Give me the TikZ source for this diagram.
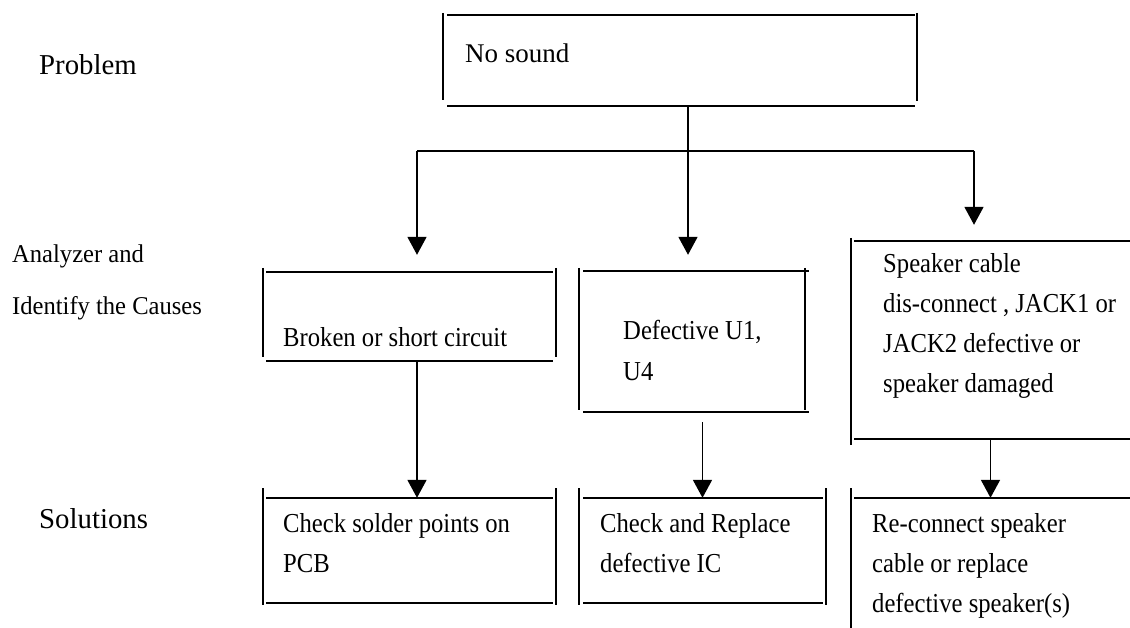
\documentclass[tikz,border=0pt]{standalone}
\usepackage{fontspec}
\setmainfont{Liberation Serif}
\newfontfamily\condserif[FakeStretch=0.9]{Liberation Serif}
\newfontfamily\semicondserif[FakeStretch=0.96]{Liberation Serif}
\usetikzlibrary{arrows.meta,fit,calc}
\begin{document}
\begin{tikzpicture}[x=1pt,y=-1pt,
  hl/.style={line width=2.2pt},
  vl/.style={line width=1.4pt},
  conn/.style={line width=1.8pt},
  arr/.style={conn,-{Triangle[width=19pt,length=18pt]}},
  lbl/.style={anchor=base west,inner sep=0pt,font=\fontsize{28.8}{34}\selectfont},
  side/.style={anchor=base west,inner sep=0pt,align=left,font=\semicondserif\fontsize{25.6}{52}\selectfont},
  txt/.style={anchor=base west,inner sep=0pt,align=left,font=\condserif\fontsize{27.4}{40}\selectfont},
  area/.style={inner sep=0pt,draw=none}]
\useasboundingbox (0,0) rectangle (1130,628);

% row labels (multi-line nodes: base = baseline of last line)
\node[lbl] (lp) at (39,75) {Problem};
\node[side] (la) at (12,315) {Analyzer and\\Identify the Causes};
\node[lbl] (ls) at (39,528) {Solutions};

% box areas
\node[area,fit={(443,15) (917,106)}] (b0) {};
\node[area,fit={(263,272) (556,361)}] (b1) {};
\node[area,fit={(579,271) (805,412)}] (b2) {};
\node[area,fit={(851,241) (1130,439)}] (b3) {};
\node[area,fit={(263,498) (556,603)}] (b4) {};
\node[area,fit={(579,498) (826,603)}] (b5) {};
\node[area,fit={(851,498) (1130,628)}] (b6) {};

% box borders
\draw[vl] (443,13) -- (443,100) (917,13) -- (917,101);
\draw[hl] (447,15) -- (915,15) (447,106) -- (915,106);

\draw[vl] (263,268) -- (263,357) (556,268) -- (556,357);
\draw[hl] (266,272) -- (553,272) (266,361) -- (553,361);

\draw[vl] (579,268) -- (579,410) (805,268) -- (805,410);
\draw[hl] (583,271) -- (809,271) (583,412) -- (809,412);

\draw[vl] (851,238) -- (851,445);
\draw[hl] (854,241) -- (1130,241) (854,439) -- (1130,439);

\draw[vl] (263,488) -- (263,605) (556,488) -- (556,605);
\draw[hl] (266,498) -- (553,498) (266,603) -- (553,603);

\draw[vl] (579,488) -- (579,605) (826,488) -- (826,605);
\draw[hl] (583,498) -- (823,498) (583,603) -- (823,603);

\draw[vl] (851,488) -- (851,628);
\draw[hl] (854,498) -- (1130,498);

% texts
\node[lbl,font=\fontsize{27}{32}\selectfont] (t0) at (465,63) {No sound};
\node[txt] (t1) at (283,347) {Broken or short circuit};
\node[txt] (t2) at (623,380) {Defective U1,\\ U4};
\node[txt] (t3) at (883,392) {Speaker cable\\dis-connect , JACK1 or\\JACK2 defective or\\speaker damaged};
\node[txt] (t4) at (283,572) {Check solder points on\\PCB};
\node[txt] (t5) at (600,572) {Check and Replace\\defective IC};
\node[txt] (t6) at (872,612) {Re-connect speaker\\cable or replace\\defective speaker(s)};

% connectors
\coordinate (j) at (688,151);
\coordinate (jl) at (417,151);
\coordinate (jr) at (974,151);
\draw[conn] (b0.south -| j) -- (j);
\draw[conn] (jl) -- (jr);
\draw[arr] (jl) -- ($(b1.north -| jl)+(0,-17)$);
\draw[arr] (j) -- ($(b2.north -| j)+(0,-16)$);
\draw[arr] (jr) -- ($(b3.north -| jr)+(0,-16)$);
\draw[arr] (b1.south -| jl) -- (b4.north -| jl);
\draw[arr] ($(b2.south -| b5.north)+(0,10)$) -- (b5.north);
\draw[arr] (b3.south) -- (b6.north);
\end{tikzpicture}
\end{document}
